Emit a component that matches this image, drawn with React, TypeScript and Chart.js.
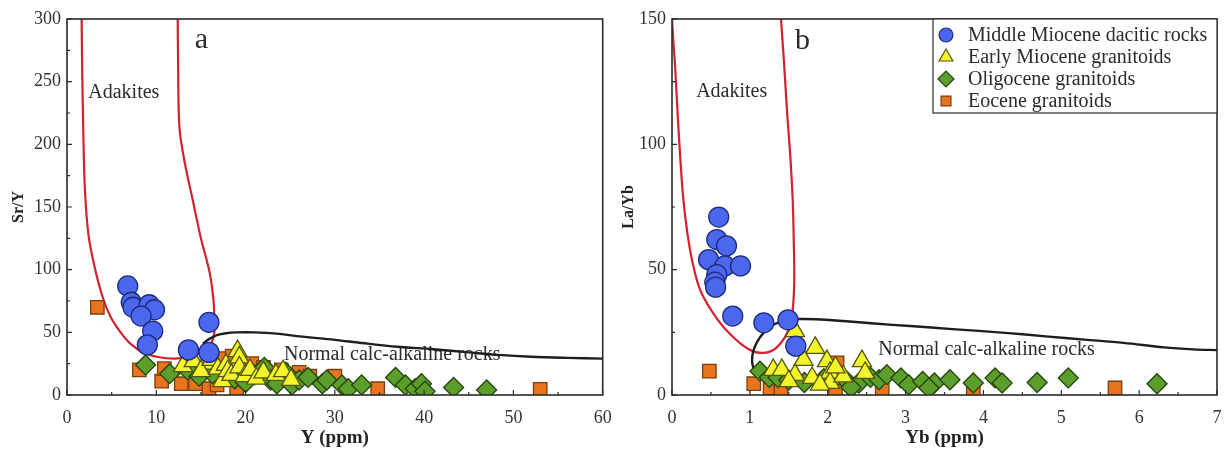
import React, { useEffect, useRef } from 'react';
import { Chart, registerables } from 'chart.js';
import { drawPoint } from 'chart.js/helpers';

Chart.register(...registerables);

type Pt = [number, number];

const seriesNames = [
  'Middle Miocene dacitic rocks',
  'Early Miocene granitoids',
  'Oligocene granitoids',
  'Eocene granitoids',
];

// ---------- Panel a : Y (ppm) vs Sr/Y ----------
const aMiddleMiocene: Pt[] = [
  [6.8, 87], [7.2, 74], [7.4, 70], [9.2, 72], [9.8, 68], [8.3, 63],
  [9.6, 51], [9.0, 40], [13.6, 36], [15.9, 58], [15.9, 34],
];
const aEarlyMiocene: Pt[] = [
  [13.0, 23], [14.2, 27], [15.5, 25], [15.0, 19], [16.2, 28], [16.9, 21],
  [17.8, 24], [17.4, 11], [18.0, 19], [18.4, 16], [19.1, 35], [19.3, 30],
  [19.3, 22], [19.9, 15], [20.5, 20], [21.2, 13], [22.0, 18], [23.4, 16],
  [24.2, 19], [25.1, 12],
];
const aOligocene: Pt[] = [
  [8.8, 24], [11.5, 17], [13.5, 20], [14.8, 15], [16.3, 17], [18.8, 13],
  [20.0, 10], [21.0, 16], [22.1, 22], [22.8, 12], [23.5, 9], [24.5, 18],
  [25.2, 8], [26.0, 12], [27.0, 14], [28.6, 9], [29.1, 12], [30.8, 8],
  [31.5, 5], [33.0, 8], [36.8, 14], [37.9, 8], [39.0, 5], [39.7, 9],
  [40.1, 3], [43.3, 6], [47.0, 4],
];
const aEocene: Pt[] = [
  [3.4, 70], [8.1, 20], [10.6, 11], [10.9, 21], [12.8, 9], [14.4, 9],
  [15.9, 5], [16.8, 8], [17.4, 29], [18.5, 31], [19.0, 4], [20.7, 25],
  [22.0, 22], [24.0, 20], [26.0, 18], [27.2, 15], [30.0, 15], [34.8, 5],
  [53.0, 4.5],
];
const aAdakiteField: Pt[] = [
  [1.64, 300], [1.7, 260], [1.82, 213], [2.0, 165], [2.4, 128], [3.1, 102],
  [4.0, 78], [4.9, 62], [6.0, 50], [7.1, 41], [8.5, 34], [10.2, 30.3],
  [12.1, 29], [14.0, 31], [15.4, 36], [16.2, 42], [16.5, 50], [16.5, 62],
  [16.4, 76], [16.0, 97], [15.0, 125], [14.1, 155], [13.2, 185],
  [12.6, 213], [12.45, 260], [12.4, 300],
];
const aCalcAlkalineField: Pt[] = [
  [15.2, 41], [16.0, 45], [16.8, 47.8], [17.8, 49.3], [19, 50], [21, 50],
  [23.5, 49], [26, 46.8], [30, 44], [33, 41.5], [37, 38.5], [41, 36.5],
  [45, 34], [48.3, 32], [52, 30.5], [56, 29.6], [60, 29],
];
const aXTicks = [0, 10, 20, 30, 40, 50, 60];
const aYTicks = [0, 50, 100, 150, 200, 250, 300];

// ---------- Panel b : Yb (ppm) vs La/Yb ----------
const bMiddleMiocene: Pt[] = [
  [0.60, 71], [0.575, 62], [0.70, 59.5], [0.47, 54], [0.68, 51.5],
  [0.88, 51.5], [0.575, 48], [0.55, 45], [0.56, 43], [0.78, 31.5],
  [1.18, 28.8], [1.49, 30], [1.59, 19.5],
];
const bEarlyMiocene: Pt[] = [
  [1.58, 25.5], [1.84, 18.8], [1.69, 14], [1.99, 13.5], [2.44, 13.5],
  [1.30, 10], [1.41, 10], [1.58, 8], [1.80, 6.8], [2.03, 8.8], [2.03, 4.8],
  [2.2, 7.4], [2.48, 8.8], [1.9, 4.1], [1.5, 5.5], [2.1, 11],
];
const bOligocene: Pt[] = [
  [1.13, 9.5], [1.25, 7], [1.36, 7], [1.5, 6], [1.7, 5], [1.95, 6.5],
  [2.25, 5.4], [2.40, 4.8], [2.55, 7], [2.66, 6.1], [2.76, 8.1], [2.94, 6.8],
  [3.04, 4.1], [3.22, 5.4], [3.37, 4.8], [3.57, 6.1], [3.87, 4.8],
  [4.15, 6.8], [4.24, 4.8], [4.69, 5], [5.09, 6.8], [6.23, 4.5], [3.3, 2.8],
  [2.3, 3],
];
const bEocene: Pt[] = [
  [0.48, 9.5], [1.05, 4.5], [1.26, 2.8], [1.4, 1.5], [2.12, 12.8], [2.1, 1.5],
  [2.7, 2], [3.87, 2.1], [5.69, 2.8],
];
const bAdakiteField: Pt[] = [
  [0.0, 150], [0.02, 140], [0.04, 131], [0.08, 108], [0.14, 80], [0.2, 64],
  [0.27, 52], [0.36, 42], [0.47, 35.5], [0.6, 29.5], [0.73, 24.8], [0.9, 20],
  [1.05, 17.3], [1.15, 16.8], [1.25, 17.2], [1.34, 18.8], [1.45, 23],
  [1.51, 27.5], [1.55, 34], [1.57, 45], [1.565, 60], [1.55, 78], [1.52, 95],
  [1.48, 112], [1.44, 132], [1.40, 150],
];
const bCalcAlkalineField: Pt[] = [
  [1.06, 9], [1.03, 13], [1.04, 17], [1.09, 21], [1.18, 25], [1.3, 28],
  [1.45, 29.8], [1.6, 30.3], [1.85, 30.2], [2.2, 29.5], [2.6, 28.5],
  [3.06, 27.5], [3.6, 26.3], [4.28, 24.8], [4.8, 23.4], [5.3, 22.1],
  [5.8, 20.8], [6.32, 19], [6.7, 18.2], [7, 17.9],
];
const bXTicks = [0, 1, 2, 3, 4, 5, 6, 7];
const bYTicks = [0, 50, 100, 150];

// ---------- styling ----------
const SERIF = "'Liberation Serif', 'Times New Roman', serif";
const markerStyles = [
  { pointStyle: 'circle', radius: 10, bg: '#4a67ee', border: '#1d2a7a', legendR: 7 },
  { pointStyle: 'triangle', radius: 11, bg: '#f4f42a', border: '#55550f', legendR: 8 },
  { pointStyle: 'rectRot', radius: 10, bg: '#5b9e2c', border: '#26440c', legendR: 8 },
  { pointStyle: 'rect', radius: 9.5, bg: '#e8741f', border: '#7a3f0c', legendR: 7 },
];

type TextNote = { x: number; y: number; text: string; size: number };

type PanelSpec = {
  series: Pt[][];
  adakite: Pt[];
  calc: Pt[];
  xMin: number; xMax: number; yMin: number; yMax: number;
  xTicks: number[]; yTicks: number[];
  xTitle: string; yTitle: string;
  yAxisWidth: number; rightPad: number; yTitlePad: number;
  notes: TextNote[];
  legend: boolean;
};

const toXY = (pts: Pt[]) => pts.map(([x, y]) => ({ x, y }));

function zeroPadding(s: any) {
  s.paddingLeft = 0;
  s.paddingRight = 0;
  s.paddingTop = 0;
  s.paddingBottom = 0;
}

function buildConfig(p: PanelSpec): any {
  const scatterSets = p.series.map((pts, i) => ({
    type: 'scatter',
    label: seriesNames[i],
    data: toXY(pts),
    pointStyle: markerStyles[i].pointStyle,
    pointRadius: markerStyles[i].radius,
    backgroundColor: markerStyles[i].bg,
    borderColor: markerStyles[i].border,
    borderWidth: 1.3,
    showLine: false,
  }));
  const lineSets = [
    { data: p.calc, color: '#1e1e1e', width: 2.4 },
    { data: p.adakite, color: '#d42030', width: 2.2 },
  ].map((l) => ({
    type: 'line',
    label: '',
    data: toXY(l.data),
    borderColor: l.color,
    borderWidth: l.width,
    pointRadius: 0,
    fill: false,
    tension: 0.35,
    showLine: true,
  }));

  const decor = {
    id: 'decor',
    beforeDatasetsDraw(chart: any) {
      const { ctx } = chart;
      const xs = chart.scales.x;
      const ys = chart.scales.y;
      ctx.save();
      ctx.fillStyle = '#2b2b2b';
      ctx.textBaseline = 'alphabetic';
      ctx.textAlign = 'left';
      for (const n of p.notes) {
        ctx.font = `${n.size}px ${SERIF}`;
        ctx.fillText(n.text, xs.getPixelForValue(n.x), ys.getPixelForValue(n.y));
      }
      ctx.restore();
    },
    afterDatasetsDraw(chart: any) {
      const { ctx, chartArea: ca } = chart;
      const xs = chart.scales.x;
      const ys = chart.scales.y;
      ctx.save();
      ctx.strokeStyle = '#2a2a2a';
      ctx.lineWidth = 1.6;
      ctx.strokeRect(ca.left, ca.top, ca.right - ca.left, ca.bottom - ca.top);
      ctx.lineWidth = 1.2;
      ctx.beginPath();
      p.xTicks.forEach((v, i) => {
        const px = xs.getPixelForValue(v);
        ctx.moveTo(px, ca.bottom); ctx.lineTo(px, ca.bottom - 5);
        if (i < p.xTicks.length - 1) {
          const mx = xs.getPixelForValue((v + p.xTicks[i + 1]) / 2);
          ctx.moveTo(mx, ca.bottom); ctx.lineTo(mx, ca.bottom - 3);
        }
      });
      p.yTicks.forEach((v, i) => {
        const py = ys.getPixelForValue(v);
        ctx.moveTo(ca.left, py); ctx.lineTo(ca.left + 5, py);
        if (i < p.yTicks.length - 1) {
          const my = ys.getPixelForValue((v + p.yTicks[i + 1]) / 2);
          ctx.moveTo(ca.left, my); ctx.lineTo(ca.left + 3, my);
        }
      });
      ctx.stroke();

      if (p.legend) {
        const bw = 284;
        const bh = 94;
        const bx = ca.right - bw;
        const by = ca.top;
        ctx.fillStyle = '#ffffff';
        ctx.fillRect(bx, by, bw, bh);
        ctx.strokeStyle = '#2a2a2a';
        ctx.lineWidth = 1.2;
        ctx.strokeRect(bx, by, bw, bh);
        seriesNames.forEach((name, i) => {
          const cy = by + 16 + i * 22;
          const st = markerStyles[i];
          ctx.fillStyle = st.bg;
          ctx.strokeStyle = st.border;
          ctx.lineWidth = 1.2;
          drawPoint(ctx, { pointStyle: st.pointStyle as any, radius: st.legendR, rotation: 0, borderWidth: 1.2 }, bx + 13, cy);
          ctx.fillStyle = '#2b2b2b';
          ctx.font = `20px ${SERIF}`;
          ctx.textAlign = 'left';
          ctx.textBaseline = 'middle';
          ctx.fillText(name, bx + 35, cy + 1);
        });
      }
      ctx.restore();
    },
  };

  const tickFont = { family: SERIF, size: 18 };
  const xTitleFont = { family: SERIF, size: 19, weight: 'bold' };
  const yTitleFont = { family: SERIF, size: 16, weight: 'bold' };

  return {
    type: 'scatter',
    data: { datasets: [...scatterSets, ...lineSets] },
    options: {
      animation: false,
      responsive: false,
      maintainAspectRatio: false,
      events: [],
      layout: { padding: { top: 19, right: p.rightPad, left: 0, bottom: 0 } },
      plugins: { legend: { display: false }, tooltip: { enabled: false } },
      scales: {
        x: {
          type: 'linear',
          min: p.xMin,
          max: p.xMax,
          afterBuildTicks: (s: any) => { s.ticks = p.xTicks.map((v) => ({ value: v })); },
          afterFit: (s: any) => { s.height = 56; zeroPadding(s); },
          ticks: { font: tickFont, color: '#333', padding: 12, maxRotation: 0, autoSkip: false },
          grid: { display: false, drawTicks: false },
          border: { display: false },
          title: { display: true, text: p.xTitle, font: xTitleFont, color: '#222', padding: { top: 0, bottom: 2 } },
        },
        y: {
          type: 'linear',
          min: p.yMin,
          max: p.yMax,
          afterBuildTicks: (s: any) => { s.ticks = p.yTicks.map((v) => ({ value: v })); },
          afterFit: (s: any) => { s.width = p.yAxisWidth; zeroPadding(s); },
          ticks: { font: tickFont, color: '#333', padding: 6, autoSkip: false },
          grid: { display: false, drawTicks: false },
          border: { display: false },
          title: { display: true, text: p.yTitle, font: yTitleFont, color: '#222', padding: { top: p.yTitlePad, bottom: 0 } },
        },
      },
    },
    plugins: [decor],
  };
}

const panelA: PanelSpec = {
  series: [aMiddleMiocene, aEarlyMiocene, aOligocene, aEocene],
  adakite: aAdakiteField,
  calc: aCalcAlkalineField,
  xMin: 0, xMax: 60, yMin: 0, yMax: 300,
  xTicks: aXTicks, yTicks: aYTicks,
  xTitle: 'Y (ppm)', yTitle: 'Sr/Y',
  yAxisWidth: 67, rightPad: 10, yTitlePad: 9,
  notes: [
    { x: 14.3, y: 277, text: 'a', size: 30 },
    { x: 2.38, y: 237, text: 'Adakites', size: 20 },
    { x: 24.3, y: 28, text: 'Normal calc-alkaline rocks', size: 20 },
  ],
  legend: false,
};

const panelB: PanelSpec = {
  series: [bMiddleMiocene, bEarlyMiocene, bOligocene, bEocene],
  adakite: bAdakiteField,
  calc: bCalcAlkalineField,
  xMin: 0, xMax: 7, yMin: 0, yMax: 150,
  xTicks: bXTicks, yTicks: bYTicks,
  xTitle: 'Yb (ppm)', yTitle: 'La/Yb',
  yAxisWidth: 57, rightPad: 13, yTitlePad: 4,
  notes: [
    { x: 1.58, y: 138, text: 'b', size: 30 },
    { x: 0.31, y: 119, text: 'Adakites', size: 20 },
    { x: 2.65, y: 16, text: 'Normal calc-alkaline rocks', size: 20 },
  ],
  legend: true,
};

function Panel({ spec, left }: { spec: PanelSpec; left: number }) {
  const ref = useRef<HTMLCanvasElement | null>(null);
  useEffect(() => {
    if (!ref.current) return;
    const chart = new Chart(ref.current, buildConfig(spec));
    return () => chart.destroy();
  }, [spec]);
  return (
    <canvas
      ref={ref}
      width={615}
      height={451}
      style={{ position: 'absolute', left, top: 0, width: 615, height: 451 }}
    />
  );
}

export default function App() {
  return (
    <div style={{ position: 'fixed', left: 0, top: 0, width: 1230, height: 451, background: '#fff' }}>
      <Panel spec={panelA} left={0} />
      <Panel spec={panelB} left={615} />
    </div>
  );
}
